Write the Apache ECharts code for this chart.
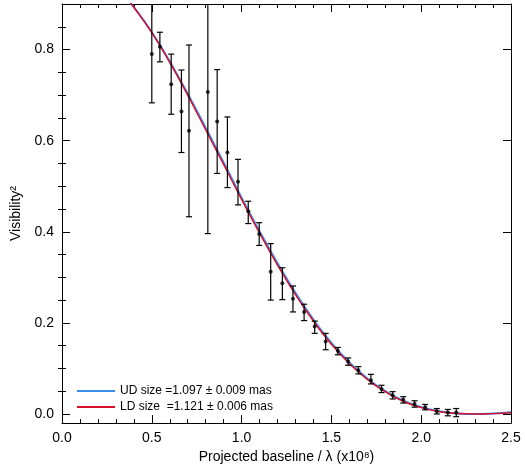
<!DOCTYPE html>
<html><head><meta charset="utf-8">
<script src="https://cdn.jsdelivr.net/npm/echarts@6/dist/echarts.min.js"></script>
<style>html,body{margin:0;background:#fff}#c{width:525px;height:469px}</style>
</head><body><div id="c"></div>
<script>
const dataX = [0.50,0.545,0.608,0.665,0.707,0.812,0.864,0.921,0.98,1.037,1.098,1.162,1.227,1.286,1.348,1.407,1.468,1.536,1.593,1.65,1.72,1.779,1.841,1.90,1.963,2.022,2.087,2.148,2.195];
const dataY = [0.79,0.806,0.724,0.664,0.622,0.707,0.642,0.574,0.51,0.445,0.395,0.312,0.287,0.253,0.224,0.192,0.159,0.138,0.115,0.096,0.074,0.055,0.041,0.031,0.022,0.015,0.006,0.003,0.003];
const errLo = [0.683,0.773,0.658,0.574,0.433,0.396,0.528,0.497,0.459,0.418,0.37,0.25,0.251,0.224,0.205,0.177,0.141,0.13,0.107,0.088,0.066,0.047,0.033,0.024,0.015,0.009,0.0,-0.004,-0.006];
const errHi = [0.90,0.838,0.79,0.755,0.81,0.92,0.756,0.652,0.559,0.467,0.42,0.374,0.321,0.281,0.241,0.204,0.177,0.146,0.123,0.104,0.087,0.063,0.049,0.038,0.029,0.021,0.012,0.010,0.012];
const modelX = [0.30,0.35,0.40,0.50,0.60,0.70,0.80,0.90,1.00,1.10,1.20,1.30,1.40,1.50,1.60,1.70,1.80,1.90,2.00,2.10,2.20,2.30,2.40,2.50];
const udY = [0.939,0.917,0.893,0.838,0.774,0.703,0.628,0.552,0.475,0.401,0.331,0.266,0.207,0.156,0.113,0.078,0.050,0.029,0.015,0.006,0.0012,0.0,0.0012,0.0039];
const ldY = [0.939,0.917,0.893,0.837,0.772,0.700,0.624,0.548,0.471,0.397,0.327,0.262,0.204,0.153,0.111,0.076,0.049,0.028,0.014,0.0055,0.0010,0.0,0.0008,0.0025];
const yMajor = [0,0.2,0.4,0.6,0.8];
const yMinor = [0.05,0.1,0.15,0.25,0.3,0.35,0.45,0.5,0.55,0.65,0.7,0.75,0.85];

const ch = echarts.init(document.getElementById('c'));
const F = 'Liberation Sans, Arial, sans-serif';
const xMinor = {show:true,splitNumber:5,length:4,lineStyle:{color:'#000'}};
const line = {onZero:false,lineStyle:{color:'#000',width:1}};
const tick = {inside:true,length:8,lineStyle:{color:'#000'}};
function yAx(pos, labels){
  return {type:'value',min:-0.02,max:0.9,position:pos,splitLine:{show:false},axisLine:line,
    axisTick:{inside:true,length:8,lineStyle:{color:'#000'},customValues:yMajor},
    minorTick:{show:false},
    axisLabel:labels?{fontFamily:F,fontSize:14,color:'#000',customValues:yMajor,formatter:v=>v.toFixed(1)}:{show:false},
    name:labels?'Visibility\u00b2':'',nameLocation:'middle',nameGap:38,nameTextStyle:{fontFamily:F,fontSize:14,color:'#000'}};
}
function yMinorAx(pos){
  return {type:'value',min:-0.02,max:0.9,position:pos,splitLine:{show:false},axisLine:{show:false},
    axisTick:{inside:true,length:4,lineStyle:{color:'#000'},customValues:yMinor},axisLabel:{show:false}};
}
ch.setOption({
  animation:false,
  grid:[{left:62,right:14,top:4,bottom:39}],
  legend:{left:72,top:380,orient:'vertical',itemWidth:38,itemHeight:2,itemGap:4,
    textStyle:{fontFamily:F,fontSize:12,color:'#000'},
    data:[{name:'UD size =1.097 \u00b1 0.009 mas',icon:'rect'},{name:'LD size  =1.121 \u00b1 0.006 mas',icon:'rect'}]},
  xAxis:[
    {type:'value',min:0,max:2.5,interval:0.5,name:'Projected baseline / \u03bb (x10\u2078)',nameLocation:'middle',nameGap:25,
      nameTextStyle:{fontFamily:F,fontSize:14,color:'#000'},splitLine:{show:false},axisLine:line,axisTick:tick,minorTick:xMinor,
      axisLabel:{fontFamily:F,fontSize:14,color:'#000',formatter:v=>v.toFixed(1)}},
    {type:'value',min:0,max:2.5,interval:0.5,position:'top',splitLine:{show:false},axisLine:line,axisTick:tick,minorTick:xMinor,axisLabel:{show:false}}
  ],
  yAxis:[yAx('left',true),yAx('right',false),yMinorAx('left'),yMinorAx('right')],
  series:[
    {name:'UD size =1.097 \u00b1 0.009 mas',type:'line',color:'#3a8df0',showSymbol:false,smooth:true,clip:true,
      lineStyle:{width:2},data:modelX.map((x,i)=>[x,udY[i]]),z:2},
    {name:'LD size  =1.121 \u00b1 0.006 mas',type:'line',color:'#d8102a',showSymbol:false,smooth:true,clip:true,
      lineStyle:{width:1.5},data:modelX.map((x,i)=>[x,ldY[i]]),z:3},
    {type:'custom',clip:true,z:4,data:dataX.map((x,i)=>[x,errLo[i],errHi[i]]),
      renderItem:(p,api)=>{
        const a=api.coord([api.value(0),api.value(1)]), b=api.coord([api.value(0),api.value(2)]);
        const s={stroke:'#000',lineWidth:1.2};
        return {type:'group',children:[
          {type:'line',shape:{x1:a[0],y1:a[1],x2:b[0],y2:b[1]},style:s},
          {type:'line',shape:{x1:a[0]-3,y1:a[1],x2:a[0]+3,y2:a[1]},style:s},
          {type:'line',shape:{x1:b[0]-3,y1:b[1],x2:b[0]+3,y2:b[1]},style:s}]};
      }},
    {type:'scatter',symbolSize:4,itemStyle:{color:'#000'},z:5,data:dataX.map((x,i)=>[x,dataY[i]])}
  ]
});
</script></body></html>
